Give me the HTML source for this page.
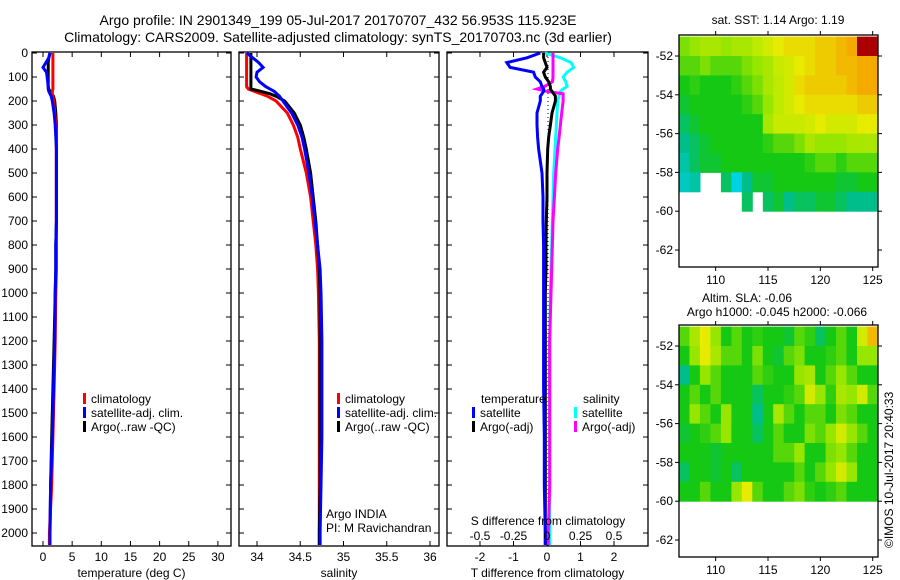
<!DOCTYPE html>
<html><head><meta charset="utf-8">
<style>
html,body{margin:0;padding:0;background:#fff;}
svg{display:block;font-family:"Liberation Sans",sans-serif;}
text{fill:#000;}
</style></head>
<body>
<svg id="fig" width="900" height="580" viewBox="0 0 900 580" xmlns="http://www.w3.org/2000/svg">
<text x="338" y="25" font-size="14" text-anchor="middle">Argo profile: IN 2901349_199 05-Jul-2017 20170707_432 56.953S 115.923E</text>
<text x="338" y="42" font-size="14" text-anchor="middle">Climatology: CARS2009. Satellite-adjusted climatology: synTS_20170703.nc (3d earlier)</text>
<text x="778" y="24" font-size="12" text-anchor="middle">sat. SST: 1.14 Argo: 1.19</text>
<text x="747" y="302" font-size="12" text-anchor="middle">Altim. SLA: -0.06</text>
<text x="777" y="316" font-size="12" text-anchor="middle">Argo h1000: -0.045 h2000: -0.066</text>
<text x="0" y="0" font-size="12" transform="translate(893,548) rotate(-90)">©IMOS 10-Jul-2017 20:40:33</text>
</svg>
<script>
// ---- profile data ----
const depths = [0,20,40,60,80,100,120,140,150,160,170,180,200,250,300,350,400,500,600,700,800,900,1000,1200,1400,1600,1800,2000,2050];
const argoT = [1.2,1.0,0.9,0.9,0.9,0.9,0.9,0.9,1.0,1.2,1.5,1.8,2.0,2.2,2.3,2.3,2.3,2.3,2.3,2.3,2.2,2.2,2.1,1.9,1.7,1.5,1.3,1.2,1.2];
const climT = [1.7,1.7,1.7,1.7,1.7,1.7,1.7,1.7,1.7,1.6,1.6,1.7,1.8,2.0,2.2,2.3,2.3,2.3,2.3,2.3,2.3,2.3,2.2,2.1,1.9,1.7,1.5,1.1,1.1];
const satT  = [1.2,1.0,0.5,0.0,0.6,0.7,0.8,0.9,0.9,1.0,1.2,1.4,1.6,1.9,2.1,2.2,2.3,2.3,2.3,2.3,2.2,2.2,2.1,2.0,1.8,1.6,1.3,1.2,1.2];
const argoS = [33.93,33.93,33.93,33.93,33.93,33.93,33.93,33.93,33.93,34.05,34.15,34.22,34.32,34.43,34.5,34.54,34.57,34.62,34.65,34.68,34.7,34.72,34.73,34.73,34.73,34.73,34.73,34.72,34.72];
const climS = [33.88,33.88,33.88,33.88,33.88,33.88,33.88,33.88,33.9,33.97,34.05,34.12,34.22,34.35,34.42,34.47,34.5,34.57,34.62,34.65,34.68,34.7,34.71,34.72,34.72,34.72,34.72,34.72,34.72];
const satS  = [33.88,33.95,34.02,34.07,34.0,33.99,34.03,34.1,34.15,34.2,34.23,34.26,34.3,34.4,34.47,34.52,34.55,34.6,34.64,34.67,34.7,34.73,34.74,34.75,34.75,34.75,34.74,34.73,34.73];
const satTdiff  = [-0.2,-0.6,-1.2,-1.1,-0.4,-0.35,-0.2,-0.15,-0.1,-0.1,-0.15,-0.2,-0.2,-0.3,-0.3,-0.28,-0.25,-0.15,-0.12,-0.12,-0.1,-0.1,-0.1,-0.1,-0.1,-0.08,-0.08,-0.05,-0.05];
const argoTdiff = [-0.1,-0.1,-0.05,0,-0.1,-0.05,0.05,0.1,0.1,0.15,0.2,0.25,0.25,0.15,0.1,0.05,0.02,0,0,-0.02,-0.03,-0.03,-0.05,-0.05,-0.05,-0.05,-0.05,-0.05,-0.05];
const satSdiff  = [-0.015,0.1,0.18,0.2,0.15,0.12,0.14,0.15,0.12,0.1,0.09,0.09,0.08,0.075,0.07,0.065,0.06,0.05,0.045,0.04,0.035,0.03,0.025,0.02,0.02,0.02,0.02,0.02,0.02];
const argoSdiff = [0.045,0.045,0.045,0.045,0.045,0.045,0.04,-0.02,-0.075,0.0,0.12,0.12,0.12,0.11,0.1,0.09,0.08,0.065,0.055,0.045,0.04,0.035,0.03,0.02,0.02,0.02,0.02,0.01,0.01];
const depthTicks = [0,100,200,300,400,500,600,700,800,900,1000,1100,1200,1300,1400,1500,1600,1700,1800,1900,2000];
const tempTicks = [0,5,10,15,20,25,30];
const salTicks = ["34","34.5","35","35.5","36"];
const tdiffTicks = [-2,-1,0,1,2];
const sdiffTicks = ["-0.5","-0.25","0","0.25","0.5"];
// ---- map data (rows lat -51..-60, cols lon 106.5..125.5, 1 deg) ----
const sstLonStart = 106.5;
const sstLatStart = -51;
const sstGrid = [
[0.58,0.6,0.62,0.62,0.6,0.62,0.62,0.64,0.66,0.68,0.7,0.7,0.7,0.72,0.72,0.74,0.76,0.9,0.9],
[0.55,0.55,0.58,0.55,0.55,0.55,0.58,0.6,0.62,0.65,0.66,0.68,0.7,0.72,0.72,0.74,0.74,0.76,0.76],
[0.5,0.52,0.5,0.5,0.5,0.52,0.55,0.58,0.62,0.64,0.66,0.7,0.72,0.72,0.72,0.72,0.74,0.76,0.76],
[0.48,0.5,0.5,0.5,0.5,0.5,0.52,0.55,0.6,0.64,0.66,0.68,0.7,0.7,0.7,0.7,0.7,0.72,0.72],
[0.45,0.48,0.5,0.5,0.5,0.5,0.5,0.5,0.62,0.65,0.65,0.65,0.66,0.68,0.66,0.66,0.66,0.68,0.68],
[0.42,0.45,0.48,0.5,0.5,0.5,0.5,0.5,0.52,0.55,0.55,0.58,0.62,0.6,0.6,0.6,0.62,0.62,0.62],
[0.4,0.45,0.48,0.48,0.5,0.5,0.5,0.5,0.5,0.5,0.5,0.5,0.52,0.55,0.55,0.52,0.55,0.55,0.55],
[0.38,0.4,null,null,0.45,0.35,0.42,0.48,0.48,0.5,0.5,0.5,0.5,0.5,0.5,0.48,0.48,0.5,0.5],
[null,null,null,null,null,null,0.45,null,0.45,0.48,0.42,0.45,0.45,0.48,0.48,0.45,0.42,0.42,0.42]];
const slaGrid = [
[0.55,0.62,0.68,0.6,0.5,0.55,0.5,0.52,0.5,0.5,0.48,0.55,0.52,0.45,0.5,0.55,0.5,0.66,0.74],
[0.5,0.6,0.68,0.62,0.55,0.55,0.5,0.58,0.5,0.48,0.55,0.58,0.5,0.5,0.52,0.55,0.5,0.6,0.6],
[0.42,0.5,0.6,0.55,0.5,0.5,0.5,0.55,0.52,0.5,0.5,0.6,0.62,0.5,0.55,0.6,0.55,0.5,0.5],
[0.5,0.55,0.5,0.55,0.5,0.5,0.5,0.45,0.5,0.5,0.52,0.55,0.66,0.6,0.52,0.62,0.6,0.66,0.55],
[0.5,0.6,0.55,0.5,0.6,0.5,0.5,0.42,0.5,0.62,0.55,0.5,0.55,0.55,0.5,0.58,0.55,0.5,0.5],
[0.48,0.5,0.52,0.55,0.6,0.5,0.5,0.45,0.5,0.55,0.5,0.5,0.58,0.55,0.6,0.66,0.6,0.55,0.5],
[0.5,0.5,0.5,0.48,0.5,0.5,0.5,0.5,0.5,0.55,0.55,0.6,0.5,0.5,0.58,0.6,0.55,0.5,0.5],
[0.45,0.5,0.5,0.48,0.5,0.45,0.5,0.5,0.5,0.5,0.5,0.55,0.5,0.55,0.6,0.66,0.6,0.5,0.5],
[0.5,0.5,0.55,0.5,0.5,0.6,0.68,0.55,0.5,0.5,0.55,0.58,0.52,0.5,0.52,0.55,0.5,0.5,0.5]];
const latTicks = [-52,-54,-56,-58,-60,-62];
const lonTicks = [110,115,120,125];

const NS = "http://www.w3.org/2000/svg";
const svg = document.getElementById('fig');
function mk(tag, attrs, parent){
  const e = document.createElementNS(NS, tag);
  for (const k in attrs) e.setAttribute(k, attrs[k]);
  (parent||svg).appendChild(e);
  return e;
}
const TOP = 53, BOT = 546;
const yD = d => 53 + d * 0.24;

function panel(name, x0, x1, xScale, ticks, tickLabels, xlabel, showY){
  const g = mk('g', {});
  
  
  const fr = mk('rect', {x:x0, y:TOP-1, width:x1-x0, height:BOT-TOP+1, fill:'none', stroke:'#000', 'stroke-width':1.3}, g);
  
  
  depthTicks.forEach(d => {
    const y = yD(d);
    const t1 = mk('line', {x1:x0, x2:x0+5, y1:y, y2:y, stroke:'#000'}, g);
    
    
    const t2 = mk('line', {x1:x1-5, x2:x1, y1:y, y2:y, stroke:'#000'}, g);
    
    
    if (showY) {
      const tl = mk('text', {x:x0-4, y:y+4, 'font-size':12, 'text-anchor':'end'}, g);
      tl.textContent = d;
      
      
    }
  });
  ticks.forEach((v, i) => {
    const x = xScale(v);
    const t1 = mk('line', {x1:x, x2:x, y1:BOT, y2:BOT-5, stroke:'#000'}, g);
    
    
    const t2 = mk('line', {x1:x, x2:x, y1:TOP-1, y2:TOP+4, stroke:'#000'}, g);
    
    
    const tl = mk('text', {x:x, y:561, 'font-size':12, 'text-anchor':'middle'}, g);
    tl.textContent = tickLabels[i];
    
    
  });
  const xl = mk('text', {x:(x0+x1)/2, y:577, 'font-size':12, 'text-anchor':'middle'}, g);
  xl.textContent = xlabel;
  
  
  return g;
}
function series(g, vals, xScale, color, name, dash){
  const pts = vals.map((v,i) => xScale(v).toFixed(1) + ',' + yD(depths[i]).toFixed(1)).join(' ');
  const attrs = {points:pts, fill:'none', stroke:color, 'stroke-width':3, 'stroke-linejoin':'miter'};
  const p = mk('polyline', attrs, g);
  
  
}
function legend(g, x, y, color, label){
  const r = mk('rect', {x:x, y:y-10, width:3, height:11, fill:color}, g);
  
  
  const t = mk('text', {x:x+8, y:y, 'font-size':12}, g);
  t.textContent = label;
  
  
}

// Panel 1: temperature
const xT = v => 43 + v * 5.83;
const g1 = panel('temperature-panel', 32, 231, xT, tempTicks, tempTicks, 'temperature (deg C)', true);
series(g1, argoT, xT, '#000', 'argo-temperature-line');
series(g1, climT, xT, '#f00', 'climatology-temperature-line');
series(g1, satT, xT, '#00f', 'satellite-temperature-line');
legend(g1, 83, 403, '#f00', 'climatology');
legend(g1, 83, 417, '#00f', 'satellite-adj. clim.');
legend(g1, 83, 431, '#000', 'Argo(..raw -QC)');

// Panel 2: salinity
const xS = v => 257 + (v - 34) * 86.5;
const g2 = panel('salinity-panel', 239, 439, xS, salTicks.map(Number), salTicks, 'salinity', false);
series(g2, climS, xS, '#f00', 'climatology-salinity-line');
series(g2, argoS, xS, '#000', 'argo-salinity-line');
series(g2, satS, xS, '#00f', 'satellite-salinity-line');
legend(g2, 337, 403, '#f00', 'climatology');
legend(g2, 337, 417, '#00f', 'satellite-adj. clim.');
legend(g2, 337, 431, '#000', 'Argo(..raw -QC)');
const ai = mk('text', {x:326, y:518, 'font-size':12}, g2);
ai.textContent = 'Argo INDIA';


const pi = mk('text', {x:326, y:532, 'font-size':12}, g2);
pi.textContent = 'PI: M Ravichandran';



// Panel 3: differences
const xTd = v => 547 + v * 33.5;
const xSd = v => 547 + v * 134;
const g3 = panel('difference-panel', 447, 648, xTd, tdiffTicks, tdiffTicks, 'T difference from climatology', false);
const zl = mk('line', {x1:548, x2:548, y1:TOP, y2:BOT, stroke:'#000', 'stroke-dasharray':'1,3'}, g3);


series(g3, satSdiff, xSd, '#0ff', 'satellite-salinity-diff-line');
series(g3, argoSdiff, xSd, '#f0f', 'argo-salinity-diff-line');
series(g3, argoTdiff, xTd, '#000', 'argo-temperature-diff-line');
series(g3, satTdiff, xTd, '#00f', 'satellite-temperature-diff-line');
const bg = mk('rect', {x:470, y:512, width:160, height:30, fill:'none'}, g3);


const sdt = mk('text', {x:548, y:525, 'font-size':12, 'text-anchor':'middle'}, g3);
sdt.textContent = 'S difference from climatology';


sdiffTicks.forEach(s => {
  const t = mk('text', {x:xSd(Number(s)), y:540, 'font-size':12, 'text-anchor':'middle'}, g3);
  t.textContent = s;
  
  
});
const lt = mk('text', {x:481, y:403, 'font-size':12}, g3);
lt.textContent = 'temperature';


const ls = mk('text', {x:583, y:403, 'font-size':12}, g3);
ls.textContent = 'salinity';


legend(g3, 472, 417, '#00f', 'satellite');
legend(g3, 472, 431, '#000', 'Argo(-adj)');
legend(g3, 574, 417, '#0ff', 'satellite');
legend(g3, 574, 431, '#f0f', 'Argo(-adj)');

// ---- maps ----
const stops = [[0.25,[0,120,255]],[0.35,[0,210,230]],[0.42,[0,190,140]],[0.5,[20,200,20]],[0.6,[150,230,0]],[0.68,[230,235,0]],[0.76,[245,170,0]],[0.9,[170,0,0]]];
function cmap(v){
  if (v <= stops[0][0]) return 'rgb(' + stops[0][1] + ')';
  for (let i=1;i<stops.length;i++){
    if (v <= stops[i][0]){
      const a = stops[i-1], b = stops[i], f = (v-a[0])/(b[0]-a[0]);
      const c = a[1].map((x,j)=>Math.round(x + (b[1][j]-x)*f));
      return 'rgb(' + c.join(',') + ')';
    }
  }
  return 'rgb(' + stops[stops.length-1][1] + ')';
}
function mapPanel(name, top, grid){
  const x0 = 679, x1 = 878, bot = top + 232;
  const lonX = l => 679 + (l - 106.5) * 10.47;
  const latY = l => top + 21 + (-52 - l) * 19.4;
  const g = mk('g', {});
  
  
  grid.forEach((row, r) => row.forEach((v, c) => {
    if (v === null) return;
    const lon = sstLonStart + c, lat = sstLatStart - r;
    const xa = lonX(lon), ya = latY(lat);
    const cell = mk('rect', {x:xa.toFixed(1), y:Math.max(top, ya).toFixed(1), width:(lonX(lon+1)-xa+0.5).toFixed(1), height:(latY(lat-1)-Math.max(top,ya)+0.5).toFixed(1), fill:cmap(v)}, g);
    
    
  }));
  const fr = mk('rect', {x:x0, y:top, width:x1-x0, height:bot-top, fill:'none', stroke:'#000', 'stroke-width':1.3}, g);
  
  
  latTicks.forEach(l => {
    const y = latY(l);
    const t = mk('line', {x1:x0-4, x2:x0, y1:y, y2:y, stroke:'#000'}, g);
    
    
    const t2 = mk('line', {x1:x1, x2:x1+4, y1:y, y2:y, stroke:'#000'}, g);
    
    
    const tl = mk('text', {x:x0-6, y:y+4, 'font-size':12, 'text-anchor':'end'}, g);
    tl.textContent = l;
    
    
  });
  lonTicks.forEach(l => {
    const x = lonX(l);
    const t = mk('line', {x1:x, x2:x, y1:bot, y2:bot+4, stroke:'#000'}, g);
    
    
    const t2 = mk('line', {x1:x, x2:x, y1:top-4, y2:top, stroke:'#000'}, g);
    
    
    const tl = mk('text', {x:x, y:bot+17, 'font-size':12, 'text-anchor':'middle'}, g);
    tl.textContent = l;
    
    
  });
}
mapPanel('sst-map', 35, sstGrid);
mapPanel('sla-map', 325, slaGrid);
</script>
</body></html>
